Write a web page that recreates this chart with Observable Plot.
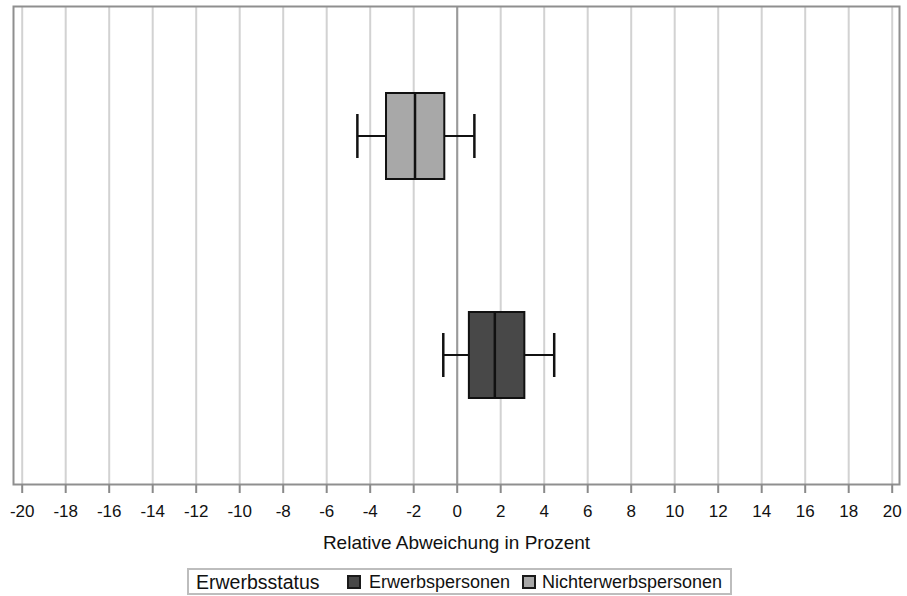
<!DOCTYPE html>
<html>
<head>
<meta charset="utf-8">
<script src="https://cdn.jsdelivr.net/npm/d3@7"></script>
<script src="https://cdn.jsdelivr.net/npm/@observablehq/plot@0.6"></script>
<style>
  html, body { margin: 0; padding: 0; background: #fff; }
  #wrap { position: relative; width: 907px; height: 596px; font-family: "Liberation Sans", Arial, sans-serif; }
  #legend { position: absolute; left: 187px; top: 568px; width: 541px; height: 23px; border: 2px solid #bdbdbd; box-sizing: content-box; }
  #legend span.t { position: absolute; top: 0; line-height: 25px; color: #111; white-space: nowrap; }
  #legend span.sw { position: absolute; top: 5px; width: 10px; height: 10px; border: 2px solid #1a1a1a; }
</style>
</head>
<body>
<div id="wrap">
  <div id="chart"></div>
  <div id="legend"></div>
</div>
<script>
// ---- data ----
const categories = ["Nichterwerbspersonen", "Erwerbspersonen"];
const whiskerLow = [-4.59, -0.64];
const q1 = [-3.25, 0.56];
const median = [-1.94, 1.73];
const q3 = [-0.57, 3.11];
const whiskerHigh = [0.79, 4.46];
const fillColors = ["#a8a8a8", "#484848"];
const xTicks = [-20, -18, -16, -14, -12, -10, -8, -6, -4, -2, 0, 2, 4, 6, 8, 10, 12, 14, 16, 18, 20];
const legendTitle = "Erwerbsstatus";
const legendOrder = ["Erwerbspersonen", "Nichterwerbspersonen"];
const xLabel = "Relative Abweichung in Prozent";

const rows = categories.map((c, i) => ({
  cat: c, wl: whiskerLow[i], q1: q1[i], med: median[i], q3: q3[i], wh: whiskerHigh[i], fill: fillColors[i]
}));

const chart = Plot.plot({
  width: 907,
  height: 564,
  marginLeft: 13,
  marginRight: 8,
  marginTop: 6,
  marginBottom: 80,
  style: { fontFamily: "Liberation Sans, Arial, sans-serif", background: "#fff", color: "#111" },
  x: { domain: [-20, 20], insetLeft: 8.7, insetRight: 7.3 },
  y: { domain: categories, paddingInner: 0.609, paddingOuter: 0.391, axis: null },
  marks: [
    Plot.gridX(xTicks, { stroke: "#d2d2d2", strokeOpacity: 1, strokeWidth: 2 }),
    Plot.ruleX([0], { stroke: "#9a9a9a", strokeWidth: 2 }),
    Plot.frame({ stroke: "#8f8f8f", strokeWidth: 2 }),
    Plot.axisX(xTicks, {
      tickSize: 9, tickPadding: 11, stroke: "#8a8a8a", strokeWidth: 2,
      fill: "#111", fontSize: 17, label: null, tickFormat: (d) => `${d}`
    }),
    Plot.text([xLabel], { text: (d) => d, frameAnchor: "bottom", dy: 64, fontSize: 19, fill: "#111" }),
    // whiskers (horizontal)
    Plot.barX(rows, { y: "cat", x1: "wl", x2: "q1", fill: "#111", insetTop: 42, insetBottom: 42 }),
    Plot.barX(rows, { y: "cat", x1: "q3", x2: "wh", fill: "#111", insetTop: 42, insetBottom: 42 }),
    // caps
    Plot.tickX(rows, { y: "cat", x: "wl", stroke: "#111", strokeWidth: 2.5, insetTop: 21, insetBottom: 21 }),
    Plot.tickX(rows, { y: "cat", x: "wh", stroke: "#111", strokeWidth: 2.5, insetTop: 21, insetBottom: 21 }),
    // boxes
    Plot.barX(rows, { y: "cat", x1: "q1", x2: "q3", fill: "fill", stroke: "#111", strokeWidth: 2 }),
    // median
    Plot.tickX(rows, { y: "cat", x: "med", stroke: "#111", strokeWidth: 2.5 })
  ]
});
document.getElementById("chart").appendChild(chart);

// ---- legend ----
const legend = document.getElementById("legend");
const colorOf = Object.fromEntries(categories.map((c, i) => [c, fillColors[i]]));
const tEl = document.createElement("span");
tEl.className = "t"; tEl.textContent = legendTitle;
tEl.style.left = "7px"; tEl.style.fontSize = "19.5px";
legend.appendChild(tEl);
const swLeft = [158, 333];
const txLeft = [180, 353];
legendOrder.forEach((name, i) => {
  const sw = document.createElement("span");
  sw.className = "sw"; sw.style.left = swLeft[i] + "px"; sw.style.background = colorOf[name];
  legend.appendChild(sw);
  const t = document.createElement("span");
  t.className = "t"; t.textContent = name; t.style.left = txLeft[i] + "px"; t.style.fontSize = "18px";
  legend.appendChild(t);
});
</script>
</body>
</html>
